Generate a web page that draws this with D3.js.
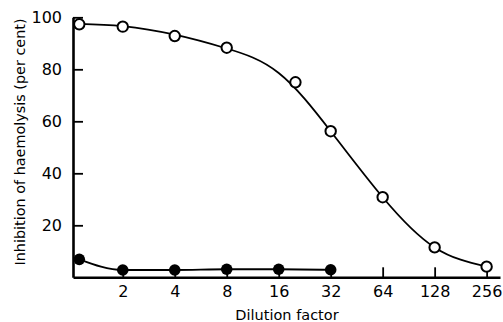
<!DOCTYPE html>
<html>
<head>
<meta charset="utf-8">
<script src="https://cdn.jsdelivr.net/npm/d3@7"></script>
<style>
  html, body { margin: 0; padding: 0; background: #fff; }
  svg { display: block; }
  text { font-family: "DejaVu Sans", sans-serif; fill: #000; }
</style>
</head>
<body>
<script>
// Data
const xTickValues = [2, 4, 8, 16, 32, 64, 128, 256];
const yTickValues = [20, 40, 60, 80, 100];
const openDilution = [1.12, 2, 4, 8, 20, 32, 64, 128, 256];
const openInhibition = [97.3, 96.4, 92.8, 88.3, 75, 56.2, 30.8, 11.5, 4.1];
// hand-drawn fitted curve through the open points
const fitDilution = [1.12, 2, 4, 8, 16, 32, 64, 128, 256];
const fitInhibition = [97.5, 96.6, 93.3, 88.0, 78.6, 56.2, 30.8, 11.5, 4.1];
const closedDilution = [1.12, 2, 4, 8, 16, 32];
const closedInhibition = [6.9, 2.8, 2.8, 3.1, 3.1, 2.9];
const xLabel = "Dilution factor";
const yLabel = "Inhibition of haemolysis (per cent)";

const W = 503, H = 322;
const svg = d3.select("body").append("svg").attr("width", W).attr("height", H);

const x = d3.scaleLog().base(2).domain([1.03, 306]).range([73, 500]);
const y = d3.scaleLinear().domain([0, 100]).range([277.3, 17.3]);

// Axes
const xAxis = d3.axisBottom(x).tickValues(xTickValues).tickFormat(d3.format("d"))
  .tickSizeInner(-10).tickSizeOuter(0).tickPadding(8);
const gx = svg.append("g").attr("transform", `translate(0,${y(0)})`).call(xAxis);
gx.select(".domain").attr("stroke-width", 2.6);
gx.selectAll(".tick line").attr("stroke-width", 1.8);
gx.selectAll("text").attr("font-size", 16).attr("font-family", "DejaVu Sans");

const yAxis = d3.axisLeft(y).tickValues(yTickValues)
  .tickSizeInner(-10).tickSizeOuter(0).tickPadding(11);
const gy = svg.append("g").attr("transform", `translate(${x(1.03)},0)`).call(yAxis);
gy.select(".domain").attr("stroke-width", 2.6);
gy.selectAll(".tick line").attr("stroke-width", 1.8);
gy.selectAll("text").attr("font-size", 16).attr("font-family", "DejaVu Sans");

// Axis labels
svg.append("text").attr("x", 287).attr("y", 320).attr("text-anchor", "middle")
  .attr("font-size", 14.5).text(xLabel);
svg.append("text").attr("transform", `translate(25,142) rotate(-90)`)
  .attr("text-anchor", "middle").attr("font-size", 14.4).text(yLabel);

// Lines
const openData = openDilution.map((d, i) => [d, openInhibition[i]]);
const fitData = fitDilution.map((d, i) => [d, fitInhibition[i]]);
const closedData = closedDilution.map((d, i) => [d, closedInhibition[i]]);
const fitLine = d3.line().x(d => x(d[0])).y(d => y(d[1])).curve(d3.curveNatural);
const closedLine = d3.line().x(d => x(d[0])).y(d => y(d[1])).curve(d3.curveMonotoneX);

svg.append("path").datum(fitData).attr("d", fitLine)
  .attr("fill", "none").attr("stroke", "#000").attr("stroke-width", 1.8);
svg.append("path").datum(closedData).attr("d", closedLine)
  .attr("fill", "none").attr("stroke", "#000").attr("stroke-width", 1.8);

// Points
svg.selectAll("circle.open").data(openData).enter().append("circle")
  .attr("class", "open").attr("cx", d => x(d[0])).attr("cy", d => y(d[1]))
  .attr("r", 5.2).attr("fill", "#fff").attr("stroke", "#000").attr("stroke-width", 2);
svg.selectAll("circle.closed").data(closedData).enter().append("circle")
  .attr("class", "closed").attr("cx", d => x(d[0])).attr("cy", d => y(d[1]))
  .attr("r", 5.8).attr("fill", "#000");
</script>
</body>
</html>
